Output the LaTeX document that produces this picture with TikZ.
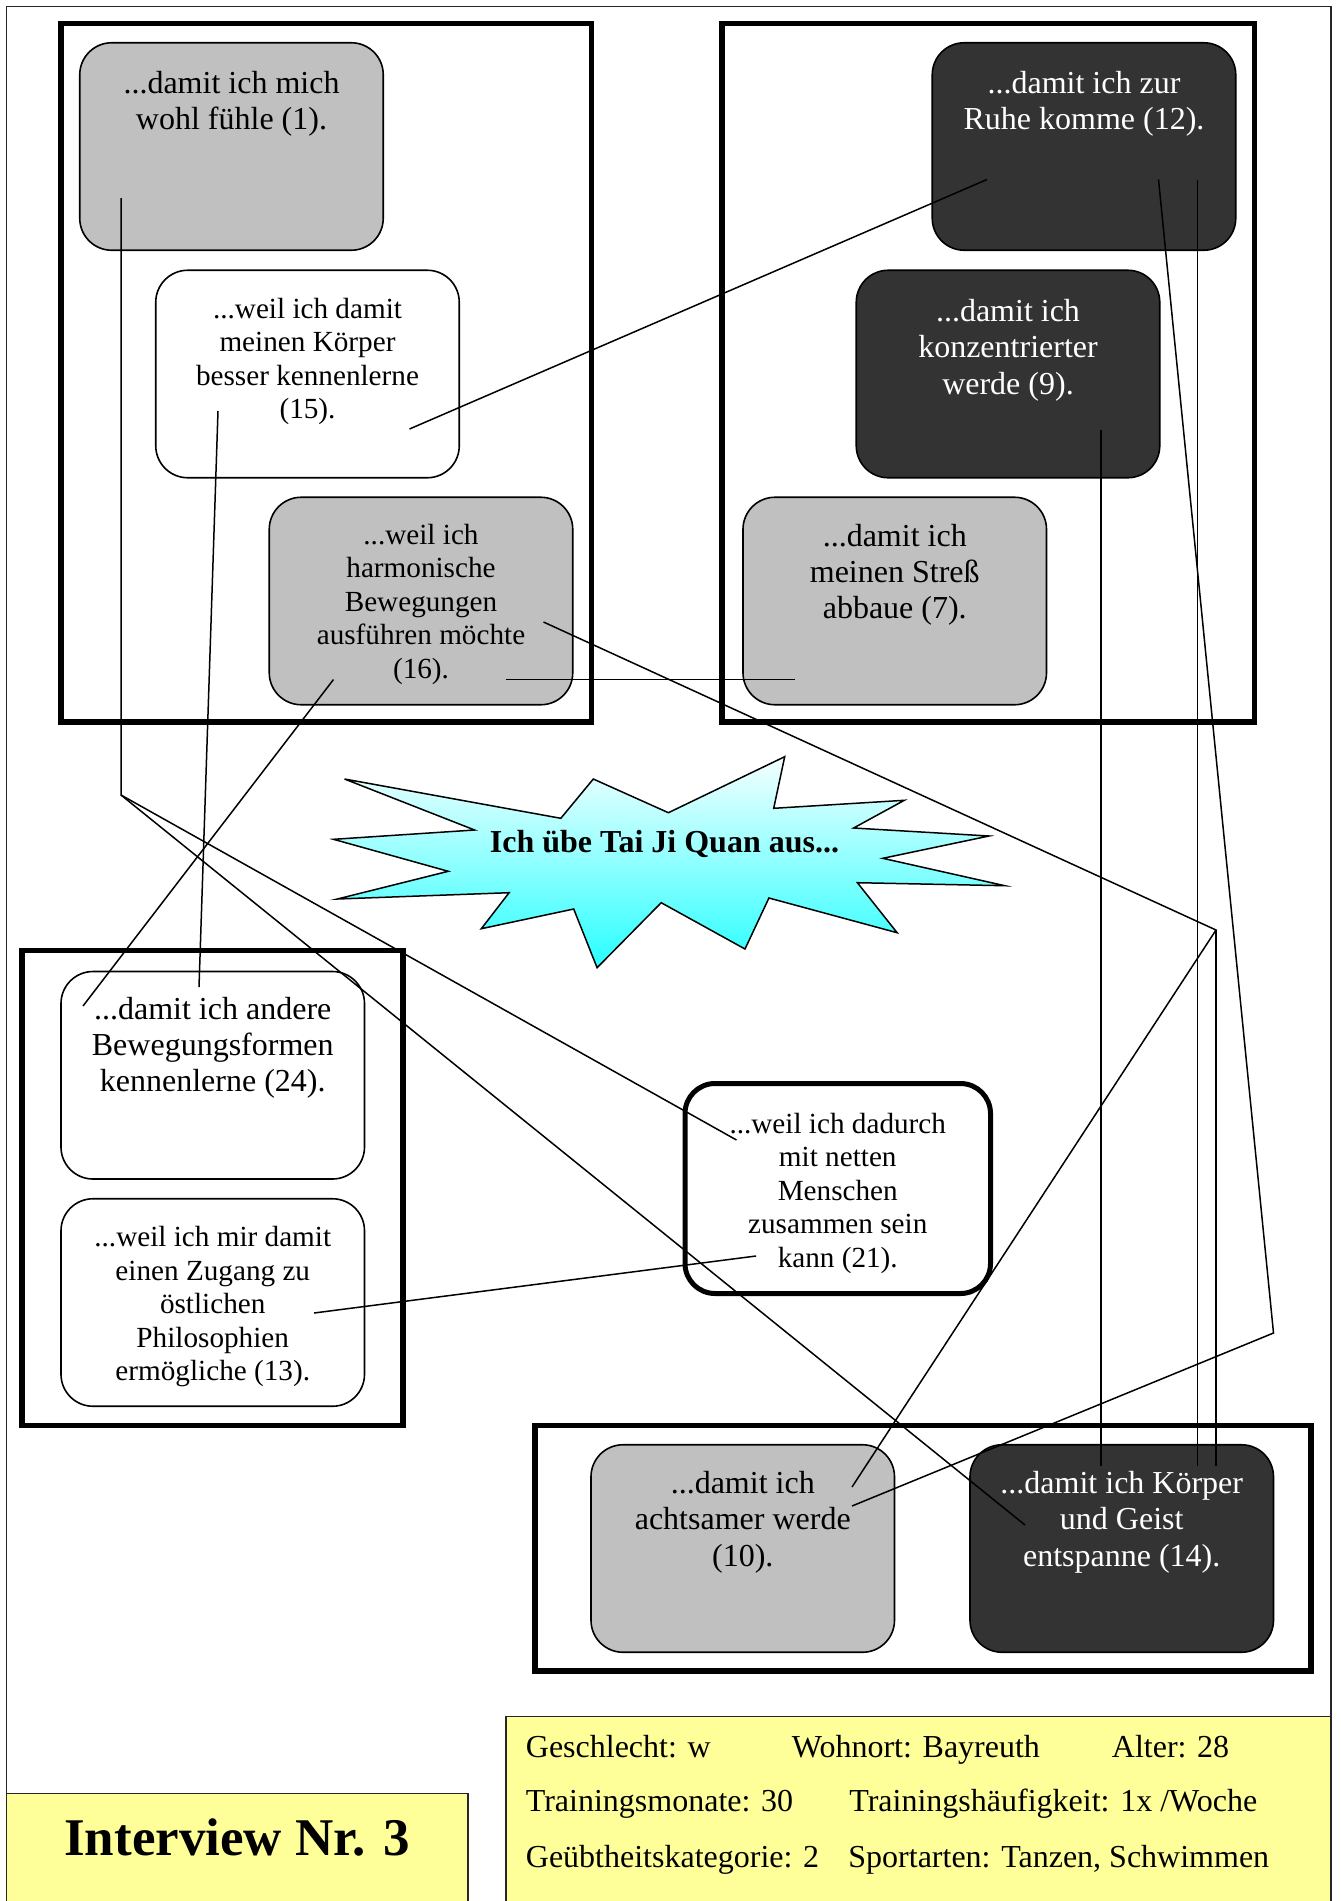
\documentclass[tikz,border=0pt]{standalone}
\usepackage{fontspec}
\setmainfont{Liberation Serif}
\newcommand{\stack}[1]{\begin{tabular}[t]{@{}c@{}}#1\end{tabular}}
\begin{document}
\begin{tikzpicture}[x=0.5pt,y=-0.5pt]
\definecolor{boxgray}{RGB}{192,192,192}
\definecolor{boxdark}{RGB}{51,51,51}
\definecolor{paleyellow}{RGB}{255,255,153}
\definecolor{bursttop}{RGB}{245,255,255}
\definecolor{burstbottom}{RGB}{40,255,255}
\tikzset{
  group/.style={draw=black,line width=2.75pt},
  card/.style={draw=black,line width=0.8pt,rounded corners=16pt,
    minimum width=151.75pt,minimum height=103.75pt,inner sep=0pt,outer sep=0pt},
  cardlight/.style={card,fill=boxgray},
  carddark/.style={card,fill=boxdark},
  cardwhite/.style={card,fill=white},
  txt/.style={inner sep=0pt,anchor=base},
  bigtxt/.style={txt,font=\fontsize{16}{18.2}\selectfont},
  smalltxt/.style={txt,font=\fontsize{14.6}{16.8}\selectfont},
  infotxt/.style={inner sep=0pt,anchor=base west,font=\fontsize{16}{18.2}\selectfont},
  link/.style={draw=black,line width=0.75pt},
  infobox/.style={draw=black!85,line width=0.75pt,fill=paleyellow},
}
\useasboundingbox (0,0) rectangle (1340,1901);
\clip (0,0) rectangle (1340,1901);
\fill[white] (0,0) rectangle (1340,1901);

% page frame
\draw[black!85,line width=0.75pt] (6.5,6.7) rectangle (1331,1960);

% group frames
\draw[group] (61,23.7) rectangle (591.5,722);
\draw[group] (722,23.7) rectangle (1254.5,722);
\draw[group] (22.2,950.7) rectangle (403,1425.3);
\draw[group] (535,1425.5) rectangle (1311,1671);

% central starburst
\path[draw=black,line width=0.75pt,top color=bursttop,bottom color=burstbottom]
  (344.5,779) -- (560.8,818.3) -- (593.3,779) -- (668.4,812.7) -- (784.7,756.7)
  -- (773.7,808.3) -- (904.3,800.3) -- (853.6,828) -- (989,836) -- (882.8,858.3)
  -- (1004.8,885.7) -- (857.4,882.7) -- (897.1,932.7) -- (768.9,898) -- (745,949)
  -- (661.2,902.7) -- (597.1,967.7) -- (573.7,909) -- (481.3,928.7) -- (509.1,892.7)
  -- (337.3,899) -- (448.3,871.3) -- (333.5,839.3) -- (474.6,830) -- cycle;
\node[txt,font=\fontsize{16}{18.2}\selectfont\bfseries] (burst) at (664.5,852.5) {Ich übe Tai Ji Quan aus...};

% reason cards
\node[cardlight] (A) at (231.5,146.5) {};
\node[cardwhite] (B) at (307.5,374) {};
\node[cardlight] (C) at (421,601) {};
\node[carddark]  (D) at (1084,146.5) {};
\node[carddark]  (E) at (1008,374) {};
\node[cardlight] (F) at (894.75,601) {};
\node[cardwhite] (G) at (212.75,1075.25) {};
\node[cardwhite] (H) at (212.75,1302.5) {};
\node[cardwhite,line width=2.5pt,rounded corners=15pt,minimum width=152.75pt,minimum height=105pt] (I) at (837.75,1188.5) {};
\node[cardlight] (J) at (742.75,1548.5) {};
\node[carddark]  (K) at (1121.75,1548.5) {};

% card texts
\node[bigtxt] (tA) at (231.5,93) {\stack{...damit ich mich\\wohl fühle (1).}};
\node[smalltxt] (tB) at (307.5,318) {\stack{...weil ich damit\\meinen Körper\\besser kennenlerne\\(15).}};
\node[smalltxt] (tC) at (421,544) {\stack{...weil ich\\harmonische\\Bewegungen\\ausführen möchte\\(16).}};
\node[bigtxt,text=white] (tD) at (1084,93) {\stack{...damit ich zur\\Ruhe komme (12).}};
\node[bigtxt,text=white] (tE) at (1008,321.5) {\stack{...damit ich\\konzentrierter\\werde (9).}};
\node[bigtxt] (tF) at (894.75,546) {\stack{...damit ich\\meinen Streß\\abbaue (7).}};
\node[bigtxt] (tG) at (212.75,1019) {\stack{...damit ich andere\\Bewegungsformen\\kennenlerne (24).}};
\node[smalltxt] (tH) at (212.75,1246.5) {\stack{...weil ich mir damit\\einen Zugang zu\\östlichen\\Philosophien\\ermögliche (13).}};
\node[smalltxt] (tI) at (837.75,1133) {\stack{...weil ich dadurch\\mit netten\\Menschen\\zusammen sein\\kann (21).}};
\node[bigtxt] (tJ) at (742.75,1493.5) {\stack{...damit ich\\achtsamer werde\\(10).}};
\node[bigtxt,text=white] (tK) at (1121.75,1493.5) {\stack{...damit ich Körper\\und Geist\\entspanne (14).}};

% connector end points
\coordinate (a-out) at (121,198);
\coordinate (a-bend) at (121,795);
\coordinate (i-in-a) at (736.5,1140);
\coordinate (k-in-a) at (1025,1525);
\coordinate (b-down) at (218,411);
\coordinate (g-top) at (199,987);
\coordinate (b-right) at (409.5,429);
\coordinate (d-left) at (987,179.5);
\coordinate (c-left) at (333.5,679.5);
\coordinate (g-left) at (83,1006);
\coordinate (c-mid) at (505.5,679.5);
\coordinate (f-in) at (795,679.5);
\coordinate (c-right) at (543.5,622);
\coordinate (c-bend) at (1216,930);
\coordinate (j-in-c) at (852,1487);
\coordinate (k-in-c) at (1216,1466);
\coordinate (d-mid) at (1158.5,179.5);
\coordinate (d-bend) at (1273.5,1333);
\coordinate (j-in-d) at (852,1506);
\coordinate (d-right) at (1197.5,179.5);
\coordinate (k-in-d) at (1197.5,1466);
\coordinate (e-out) at (1101.2,430);
\coordinate (k-in-e) at (1101.2,1466);
\coordinate (h-out) at (314,1313);
\coordinate (i-in-h) at (756,1256);

% connectors
\draw[link] (a-out) -- (a-bend) -- (i-in-a);
\draw[link] (a-bend) -- (k-in-a);
\draw[link] (b-down) -- (g-top);
\draw[link] (b-right) -- (d-left);
\draw[link] (c-left) -- (g-left);
\draw[link] (c-mid) -- (f-in);
\draw[link] (c-right) -- (c-bend) -- (j-in-c);
\draw[link] (c-bend) -- (k-in-c);
\draw[link] (d-mid) -- (d-bend) -- (j-in-d);
\draw[link] (d-right) -- (k-in-d);
\draw[link] (e-out) -- (k-in-e);
\draw[link] (h-out) -- (i-in-h);

% interview label and profile
\draw[infobox] (6.7,1793.3) rectangle (468,1960);
\node[txt,font=\fontsize{26.5}{30}\selectfont\bfseries] (title) at (237,1855) {Interview Nr. 3};
\draw[infobox] (506,1716.7) rectangle (1331,1960);
\node[infotxt] (sex) at (525.5,1757) {Geschlecht: w};
\node[infotxt] (home) at (791.5,1757) {Wohnort: Bayreuth};
\node[infotxt] (age) at (1111.5,1757) {Alter: 28};
\node[infotxt] (months) at (525.5,1811.5) {Trainingsmonate: 30};
\node[infotxt] (freq) at (849,1811.5) {Trainingshäufigkeit: 1x /Woche};
\node[infotxt] (level) at (525.5,1867) {Geübtheitskategorie: 2};
\node[infotxt] (sports) at (848,1867) {Sportarten: Tanzen, Schwimmen};
\end{tikzpicture}
\end{document}
